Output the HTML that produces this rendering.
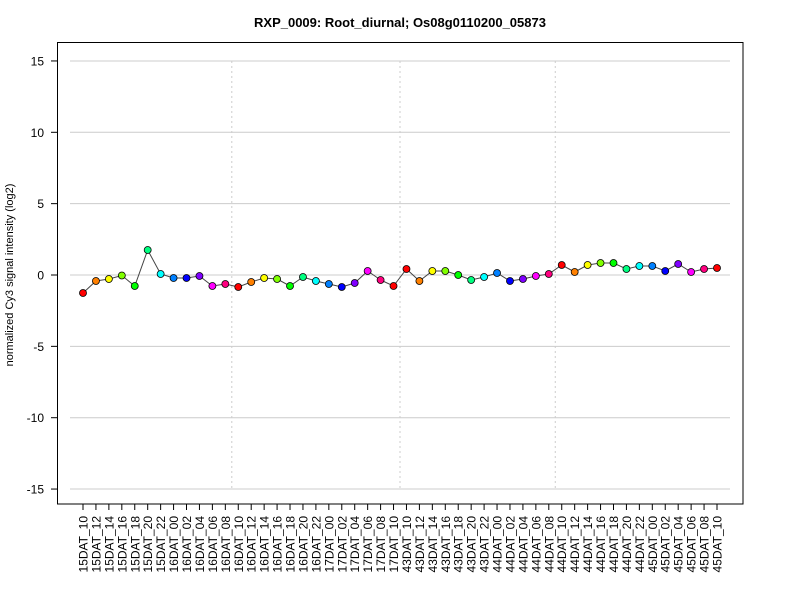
<!DOCTYPE html><html><head><style>body{margin:0;background:#fff}</style></head><body>
<svg id="s" width="800" height="600" xmlns="http://www.w3.org/2000/svg" font-family="Liberation Sans, Arial, sans-serif"></svg>
<script>
var s=document.getElementById('s'),h='';
h+='<rect width="800" height="600" fill="#fff"/>';
h+='<text x="400" y="27" text-anchor="middle" font-weight="bold" font-size="13">RXP_0009: Root_diurnal; Os08g0110200_05873</text>';
function Y(v){return 275-v*14.27;}
for(var v=-15;v<=15;v+=5){var y=Y(v);h+='<line x1="70" x2="730" y1="'+y+'" y2="'+y+'" stroke="#ccc"/>';
h+='<line x1="51" x2="57.5" y1="'+y+'" y2="'+y+'" stroke="#000"/>';
h+='<text x="44" y="'+(y+4.5)+'" text-anchor="end" font-size="12">'+v+'</text>';}
h+='<rect x="57.5" y="42.5" width="685.5" height="461.5" fill="none" stroke="#000"/>';
h+='<text transform="translate(13,275) rotate(-90)" text-anchor="middle" font-size="11">normalized Cy3 signal intensity (log2)</text>';
var L=[];[[15,[10,12,14,16,18,20,22]],[16,[0,2,4,6,8,10,12,14,16,18,20,22]],[17,[0,2,4,6,8,10]],[43,[10,12,14,16,18,20,22]],[44,[0,2,4,6,8,10,12,14,16,18,20,22]],[45,[0,2,4,6,8,10]]].forEach(function(d){d[1].forEach(function(t){L.push([d[0]+'DAT_'+(t<10?'0':'')+t,t]);});});
var ys=[293,281,279,275.5,286,250,274,278,278,276,286,284,287,282,278,279,286,277,281,284,287,283,271,280,286,269,281,271,271,275,280,277,273,281,279,276,274,265,272,265,263,263,269,266,266,271,264,272,269,268];
function X(i){return 83+i*634/49;}
[11.5,24.5,36.5].forEach(function(i){var x=X(i);h+='<line x1="'+x+'" x2="'+x+'" y1="61" y2="489" stroke="#ccc" stroke-dasharray="2,3"/>';});
var p='';for(var i=0;i<50;i++)p+=(i?'L':'M')+X(i)+','+ys[i];
h+='<path d="'+p+'" fill="none" stroke="#444" stroke-width="1"/>';
for(var i=0;i<50;i++){var hue=(((L[i][1]-10)/2+12)%12)*30;
h+='<circle cx="'+X(i)+'" cy="'+ys[i]+'" r="3.5" fill="hsl('+hue+',100%,50%)" stroke="#000" stroke-width="0.8"/>';
h+='<line x1="'+X(i)+'" x2="'+X(i)+'" y1="504" y2="510" stroke="#000"/>';
h+='<text transform="translate('+(X(i)+4.5)+',516) rotate(-90)" text-anchor="end" font-size="12">'+L[i][0]+'</text>';}
s.innerHTML=h;
</script></body></html>
